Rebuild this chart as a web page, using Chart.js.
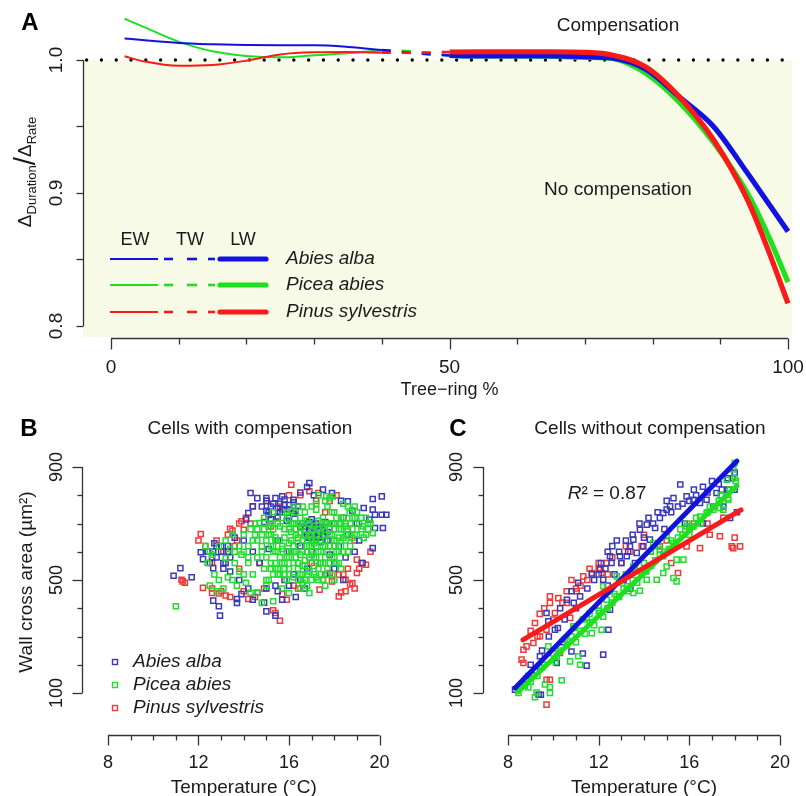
<!DOCTYPE html>
<html><head><meta charset="utf-8">
<script src="https://cdn.jsdelivr.net/npm/chart.js@4.4.1/dist/chart.umd.min.js"></script>
<style>
html,body{margin:0;padding:0;background:#fff;width:806px;height:796px;overflow:hidden;position:relative}
.box{position:absolute}
canvas{display:block}
</style></head><body>
<div class="box" style="left:0;top:0;width:806px;height:400px"><canvas id="cA" width="806" height="400"></canvas></div>
<div class="box" style="left:0;top:400px;width:403px;height:396px"><canvas id="cB" width="403" height="396"></canvas></div>
<div class="box" style="left:400px;top:400px;width:406px;height:396px"><canvas id="cC" width="406" height="396"></canvas></div>
<script>
// ---------- Panel A data ----------
const treeRingPct = [2, 5, 10, 15, 20, 25, 30, 35, 40, 45, 50, 55, 60, 65, 70, 74, 79, 84, 89, 94, 97, 100];
const ratioAbies  = [1.0162,1.0148,1.0128,1.0118,1.0112,1.011,1.011,1.0098,1.0075,1.005,1.0035,1.003,1.003,1.003,1.0025,1.0015,0.993,0.972,0.950,0.915,0.893,0.871];
const ratioPicea  = [1.031,1.0245,1.0138,1.0065,1.003,1.002,1.0035,1.005,1.0072,1.0062,1.0035,1.003,1.003,1.0028,1.002,1.0012,0.990,0.968,0.938,0.900,0.869,0.833];
const ratioPinus  = [1.0028,0.9988,0.9956,0.9962,0.9995,1.0042,1.0058,1.006,1.0055,1.0055,1.006,1.0062,1.0062,1.0062,1.0058,1.0038,0.9948,0.972,0.940,0.895,0.858,0.817];
const phaseBounds = [40, 50];           // EW < 40 <= TW < 50 <= LW
const aXMajor = [0, 50, 100];
const aXTicks = [0,10,20,30,40,50,60,70,80,90,100];
const aYTicks = [0.8, 0.85, 0.9, 0.95, 1.0];
const aYLabels = [0.8, 0.9, 1.0];
const compLevel = 1.0;

// ---------- Panel B data (cells with compensation): [temperature, wall area] ----------
const bAbies = [[10.9,515],[11.2,542],[11.7,510],[12.1,598],[12.2,574],[12.4,600],[12.65,601],[12.65,542],[12.65,427],[12.9,407],[12.95,374],[13.7,433],[13.7,419],[14.3,808],[14.2,737],[14.1,714],[14.4,761],[15.0,389],[15.4,374],[15.7,796],[16.2,784],[16.8,829],[16.9,843],[17.5,820],[17.9,808],[18.6,779],[19.7,787],[20.1,796],[19.3,755],[19.7,749],[19.8,731],[20.1,731],[20.3,731],[20.15,684],[19.8,684],[19.7,613],[19.55,714],[19.25,560],[14.8,760],[15.0,745],[15.1,730],[15.3,770],[15.5,755],[15.6,740],[15.8,765],[16.0,750],[16.2,735],[16.4,760],[15.2,715],[15.9,710],[14.9,705],[16.6,700],[16.9,680],[17.1,665],[17.3,670],[17.5,655],[17.2,690],[17.7,640],[18.0,700],[18.4,720],[18.8,745],[19.0,700],[18.6,660],[18.2,620],[17.8,590],[17.4,560],[16.8,540],[16.2,520],[15.8,500],[15.4,480],[15.0,470],[14.6,455],[14.2,470],[13.8,500],[13.4,530],[13.1,560],[12.8,580],[13.0,620],[13.3,600],[13.6,650],[14.0,640],[14.4,600],[14.7,560],[15.1,610],[15.5,640],[16.0,600],[16.5,620],[17.0,600],[17.6,520],[18.0,540],[18.4,500],[16.7,470],[16.3,440],[15.7,430],[14.9,420],[14.4,430],[13.9,450],[18.9,600],[19.1,640],[18.3,780],[17.1,800],[16.5,810],[15.0,790],[14.6,790],[16.7,690],[16.9,705],[17.0,715],[17.2,700],[17.4,690],[17.6,705],[16.8,660],[17.3,650],
  [15.0,780],[15.2,760],[15.4,790],[15.6,770],[15.8,785],[16.0,765],[16.2,775],[15.1,740],[15.5,725],[15.7,750],[16.0,720],[16.3,745],[16.5,690],[16.7,670],[16.9,650],[17.1,640],[17.3,690],[17.5,680],[17.7,670],[17.4,635],[17.0,690],[12.4,600],[12.6,580],[12.8,620],[13.0,600],[13.2,560],[13.4,580],[12.5,560],[12.7,630],[13.1,540],[13.3,620],[18.0,560],[18.5,580],[16.0,480],[16.5,500],[15.5,460]];
const bPicea = [[11.0,407],[12.3,620],[12.5,600],[12.4,560],[12.7,520],[12.9,500],[13.1,470],[13.2,578],[13.4,610],[13.6,560],[13.8,530],[13.9,590],[14.0,660],[14.2,620],[14.3,680],[14.5,700],[14.6,640],[14.7,702],[14.8,600],[14.9,540],[14.6,454],[14.8,419],[15.0,480],[15.1,660],[15.2,700],[15.3,620],[15.3,425],[15.4,560],[15.5,520],[15.6,690],[15.7,610],[15.8,650],[15.9,580],[16.0,454],[16.0,540],[16.1,700],[16.2,620],[16.3,660],[16.3,580],[16.4,500],[16.5,666],[16.5,720],[16.6,600],[16.7,550],[16.8,640],[16.9,454],[16.9,700],[17.0,760],[17.0,620],[17.1,520],[17.2,749],[17.2,580],[17.3,680],[17.4,640],[17.5,560],[17.5,720],[17.6,780],[17.65,796],[17.7,600],[17.8,660],[17.9,700],[17.94,796],[18.0,740],[18.0,620],[18.1,560],[18.2,680],[18.3,720],[18.4,650],[18.5,700],[18.6,600],[18.68,737],[18.8,680],[18.9,720],[19.0,660],[19.1,700],[19.26,690],[19.4,660],[19.5,680],[19.7,666],[16.2,760],[15.9,740],[15.5,600],[15.0,580],[14.4,520],[14.1,490],[13.7,480],[13.3,510],[16.6,490],[17.3,500],[16.8,480],[15.7,470],[14.3,455],[17.9,520],[18.3,540],[17.0,660],[16.4,630],[15.8,560],[15.2,540],[16.1,600],[16.9,580],[17.6,620],[18.2,600],[15.4,640],[14.9,680],[16.7,740],[17.7,760],[18.4,770],[17.3,800],[16.0,700],[15.1,500],[15.3,520],[15.5,540],[15.7,560],[15.9,600],[16.1,640],[16.3,680],[16.5,700],[16.7,660],[16.9,620],[17.1,580],[17.3,540],[17.5,500],[17.7,540],[17.9,580],[18.1,640],[18.3,700],[18.5,660],[18.7,620],[18.9,660],[16.0,520],[16.2,560],[16.4,540],[16.6,520],[16.8,600],[17.0,640],[17.2,620],[17.4,600],[17.6,660],[17.8,700],[15.6,580],[15.4,600],[15.2,620],[15.0,640],[14.8,660],[14.6,680],[15.3,680],[15.7,720],[16.3,740],[18.6,760],[19.0,740],[19.2,720],[19.5,700],[19.3,650],[18.0,500],[17.6,480],[16.5,470],[15.8,520],
  [15.0,500],[15.2,560],[15.3,600],[15.4,650],[15.5,700],[15.1,690],[15.6,520],[15.7,620],[15.8,680],[15.9,500],[16.0,580],[16.0,630],[16.1,670],[16.2,510],[16.2,700],[16.3,600],[16.4,560],[16.4,650],[16.5,520],[16.5,590],[16.6,640],[16.6,690],[16.7,500],[16.7,570],[16.8,620],[16.8,710],[16.9,530],[16.9,660],[17.0,500],[17.0,590],[17.1,550],[17.1,630],[17.1,690],[17.2,510],[17.2,660],[17.3,600],[17.3,710],[17.4,560],[17.4,670],[17.5,620],[17.5,690],[17.6,580],[17.6,640],[17.7,520],[17.7,700],[17.8,560],[17.8,620],[17.9,660],[17.9,740],[18.0,580],[18.0,680],[18.1,600],[18.1,720],[18.2,560],[18.2,650],[18.3,620],[18.3,680],[18.4,600],[18.4,720],[18.5,640],[18.5,690],[18.6,680],[18.7,700],[18.8,650],[15.2,660],[15.4,540],[15.6,640],[15.8,540],[16.0,680],[16.2,600],[16.4,700],[16.6,550],[16.8,520],[17.0,680],[17.2,640],[17.4,520],[17.6,700],[17.8,680],[18.0,640],[18.2,700],[14.8,620],[14.6,580],[14.4,640],[14.2,580],[14.0,600],[13.8,620],[14.5,660],[14.9,720],[15.3,740],[16.0,730],[16.6,760],[17.2,770],[17.8,790],[18.8,720],[19.2,680],[19.6,700],[19.4,720],[18.9,760],[12.6,590],[12.9,620],[13.2,640],[13.5,660],[12.5,480],[12.8,460],[13.5,500],[14.0,520],[14.2,560],[13.6,600]];
const bPinus = [[11.3,495],[11.25,501],[11.4,490],[12.1,663],[12.2,472],[12.6,454],[12.9,452],[13.0,460],[13.2,445],[13.4,681],[13.5,675],[13.9,708],[14.0,678],[14.2,433],[14.5,440],[14.9,470],[13.6,620],[12.8,640],[13.1,600],[14.4,760],[16.1,837],[16.9,814],[17.3,808],[15.3,393],[15.4,383],[15.6,356],[15.9,430],[15.7,450],[16.4,470],[17.35,466],[17.8,525],[17.9,495],[18.2,519],[18.5,501],[18.7,484],[18.8,489],[18.2,442],[18.3,456],[19.0,572],[19.2,560],[19.4,554],[19.0,525],[18.6,540],[15.0,780],[15.5,720],[16.5,800],[17.8,780],[18.1,800],[17.0,560],[16.2,480],[14.7,560],[13.8,540],[12.6,560],[17.6,740],[18.9,640],[19.6,600],[14.1,720],[15.2,690],
  [12.0,640],[12.3,620],[13.3,660],[13.8,700],[14.3,700],[12.6,470],[13.4,440],[14.0,460],[18.5,460],[18.9,470],[19.1,540],[18.4,520],[17.5,500],[16.0,800],[15.6,760],[17.2,780],[13.7,640]];

// ---------- Panel C data (cells without compensation) ----------
const cAbies = [[8.31,112],[9.35,94],[9.45,94],[9.7,383],[9.78,354],[10.07,324],[9.41,230],[10.15,206],[10.8,247],[11.47,197],[12.2,236],[11.18,442],[10.9,419],[12.06,537],[12.2,501],[12.5,584],[12.57,560],[12.94,584],[13.38,619],[13.53,643],[13.82,678],[14.12,696],[14.49,684],[13.24,584],[13.68,596],[13.97,619],[14.26,643],[14.85,737],[15.0,749],[15.15,761],[15.6,838],[15.88,796],[16.18,784],[16.47,773],[16.76,784],[17.2,808],[17.43,820],[17.72,820],[18.0,820],[17.8,720],[17.06,761],[12.5,395],[12.43,324],[11.5,470],[11.8,500],[12.0,520],[12.3,540],[12.7,520],[13.0,560],[13.3,600],[13.6,560],[14.0,650],[14.4,700],[14.7,720],[15.2,740],[15.5,760],[16.0,780],[16.3,800],[16.8,810],[17.3,840],[17.7,860],[18.0,880],[9.0,200],[9.2,180],[8.9,160],[10.3,400],[10.6,430],[10.8,460],[11.1,490],[9.8,300],[10.4,280],[11.3,240],[15.8,700],[16.6,700],[17.5,760],[18.1,740],[14.9,680],[12.4,480],[12.8,640],[13.1,500],[13.4,470],
  [11.7,520],[12.1,560],[12.4,600],[12.6,620],[12.9,600],[13.2,640],[13.5,660],[13.8,700],[14.2,720],[14.6,740],[15.0,780],[15.3,790],[15.7,770],[16.2,820],[16.6,830],[17.0,850],[17.4,800],[17.9,860],[10.2,330],[10.5,360],[11.0,400],[9.5,250],[8.8,150]];
const cPicea = [[8.46,100],[8.75,126],[9.19,85],[9.26,102],[9.63,130],[9.85,100],[9.85,121],[9.78,265],[10.15,230],[10.37,145],[10.74,212],[11.1,230],[11.18,200],[11.7,312],[12.13,324],[11.47,365],[10.88,336],[12.06,383],[12.35,430],[12.8,442],[13.24,478],[13.53,454],[13.82,462],[14.12,501],[14.56,501],[14.85,525],[15.0,548],[15.3,507],[15.44,495],[15.44,572],[15.74,572],[14.85,584],[14.41,631],[14.7,607],[15.0,655],[15.88,690],[16.18,690],[16.47,725],[16.76,737],[17.06,749],[17.35,755],[17.5,749],[17.65,855],[17.94,891],[18.0,914],[17.72,784],[13.53,548],[12.8,513],[12.2,478],[9.0,140],[9.5,190],[10.0,240],[10.5,290],[10.9,330],[11.3,360],[11.6,380],[12.0,410],[12.5,460],[12.9,490],[13.2,520],[13.6,540],[14.0,560],[14.3,600],[14.6,620],[15.2,640],[15.6,680],[16.0,660],[16.3,720],[16.9,760],[17.3,780],[17.8,820],[18.05,850],[8.9,120],
  [9.3,160],[9.6,200],[10.1,210],[10.3,250],[10.6,270],[10.8,300],[11.0,280],[11.2,320],[11.4,310],[11.6,350],[11.8,340],[12.0,390],[12.2,370],[12.4,400],[12.6,420],[12.7,450],[12.9,440],[13.1,470],[13.3,460],[13.5,500],[13.7,490],[13.9,520],[14.1,530],[14.3,550],[14.5,570],[14.7,590],[14.9,600],[15.1,610],[15.3,630],[15.5,650],[15.7,660],[15.9,700],[16.1,690],[16.5,700],[16.8,740],[17.1,760],[17.4,800],[17.7,790],[18.0,860]];
const cPinus = [[8.6,218],[8.68,253],[9.12,277],[9.19,348],[9.41,301],[9.7,324],[9.85,442],[9.85,419],[10.07,383],[10.22,436],[10.59,460],[11.03,460],[11.32,513],[11.7,525],[12.13,525],[12.35,560],[9.7,147],[9.7,59],[9.85,147],[10.29,242],[10.74,366],[15.5,525],[16.47,613],[16.9,660],[17.35,655],[17.87,619],[17.94,613],[18.24,619],[15.88,619],[14.7,619],[8.68,206],[8.82,265],[10.59,419],[10.0,360],[12.6,580],[13.0,560],[13.4,600],[13.9,620],[14.3,600],[11.0,470],[11.5,500],[12.0,540],[16.2,700],[16.8,700],[17.5,720],[18.0,650],[15.2,560],[9.4,380],[9.0,320],
  [10.8,500],[11.2,480],[11.6,540],[12.0,560],[12.4,520],[9.3,300],[9.6,400],[10.4,420],[13.2,620],[14.0,660],[15.0,640],[16.0,680]];
// regression lines (start, end)
const cFitAbies = [[8.31,118],[18.1,921]];
const cFitPicea = [[8.44,104],[18.1,833]];
const cFitPinus = [[8.66,288],[18.28,748]];
const bcXMajor = [8, 12, 16, 20];
const bcXTicks = [8,9,10,11,12,13,14,15,16,17,18,19,20];
const bcYMajor = [100, 500, 900];
const bcYTicks = [100,200,300,400,500,600,700,800,900];
const r2Text = '0.87';

const speciesNames = ['Abies alba', 'Picea abies', 'Pinus sylvestris'];
const lineColors = ['#1212e0', '#1ee01e', '#fb1a1a'];
const pointColors = ['#3a3ab8', '#22dc30', '#ee3a3a'];

const FONT = '"Liberation Sans", Arial, Helvetica, sans-serif';
const INK = '#1a1a1a';

function txt(ctx, s, x, y, size, opts = {}) {
  ctx.save();
  ctx.font = (opts.style || '') + ' ' + (opts.weight || '') + ' ' + size + 'px ' + FONT;
  ctx.fillStyle = opts.color || INK;
  ctx.textAlign = opts.align || 'center';
  ctx.textBaseline = opts.base || 'middle';
  if (opts.rot) { ctx.translate(x, y); ctx.rotate(-Math.PI / 2); ctx.fillText(s, 0, 0); }
  else ctx.fillText(s, x, y);
  ctx.restore();
}
function hline(ctx, x1, x2, y) { ctx.beginPath(); ctx.moveTo(x1, y); ctx.lineTo(x2, y); ctx.stroke(); }
function vline(ctx, x, y1, y2) { ctx.beginPath(); ctx.moveTo(x, y1); ctx.lineTo(x, y2); ctx.stroke(); }

// ---------- Panel A ----------
const phaseStyle = x => x < phaseBounds[0] ? 'EW' : (x < phaseBounds[1] ? 'TW' : 'LW');
function speciesDataset(vals, i) {
  return {
    data: treeRingPct.map((x, k) => ({x, y: vals[k]})),
    borderColor: lineColors[i], pointRadius: 0, cubicInterpolationMode: 'monotone', fill: false,
    borderCapStyle: 'butt',
    segment: {
      borderWidth: c => { const p = phaseStyle(c.p0.parsed.x); return p === 'EW' ? 2 : (p === 'TW' ? 2.6 : 5.2); },
      borderDash: c => phaseStyle(c.p0.parsed.x) === 'TW' ? [9, 11] : []
    }
  };
}
const panelAPlugin = {
  id: 'panelA',
  beforeDatasetsDraw(chart) {
    const {ctx, chartArea: a, scales: {y}} = chart;
    const y1 = y.getPixelForValue(compLevel);
    ctx.save(); ctx.fillStyle = '#f7fae6'; ctx.fillRect(a.left, y1, a.right - a.left, a.bottom - y1); ctx.restore();
  },
  afterDraw(chart) {
    const {ctx, scales: {x, y}} = chart;
    ctx.save();
    ctx.strokeStyle = '#333'; ctx.lineWidth = 1.3;
    const ay = 338.5;
    hline(ctx, x.getPixelForValue(aXTicks[0]), x.getPixelForValue(aXTicks[aXTicks.length - 1]), ay);
    aXTicks.forEach(v => { const px = Math.round(x.getPixelForValue(v)) + 0.5; vline(ctx, px, ay, ay + (aXMajor.includes(v) ? 11 : 6)); });
    aXMajor.forEach(v => txt(ctx, String(v), x.getPixelForValue(v), 368, 19));
    txt(ctx, 'Tree\u2212ring %', x.getPixelForValue(50), 390, 18);
    const ax = 83.5;
    vline(ctx, ax, y.getPixelForValue(aYTicks[0]), y.getPixelForValue(aYTicks[aYTicks.length - 1]));
    aYTicks.forEach(v => { const py = Math.round(y.getPixelForValue(v)) + 0.5; hline(ctx, ax - 7, ax, py); });
    aYLabels.forEach(v => txt(ctx, v.toFixed(1), 57, y.getPixelForValue(v), 19, {rot: true}));
    ctx.save();
    ctx.translate(31, 172); ctx.rotate(-Math.PI / 2);
    ctx.fillStyle = INK; ctx.textAlign = 'left'; ctx.textBaseline = 'alphabetic';
    const parts = [['\u0394', 19, 0], ['Duration', 13, 5], ['/', 30, 4], ['\u0394', 19, 0], ['Rate', 13, 5]];
    let tot = 0;
    parts.forEach(p => { ctx.font = p[1] + 'px ' + FONT; tot += ctx.measureText(p[0]).width; });
    let cx = -tot / 2;
    parts.forEach(p => { ctx.font = p[1] + 'px ' + FONT; ctx.fillText(p[0], cx, p[2]); cx += ctx.measureText(p[0]).width; });
    ctx.restore();
    txt(ctx, 'A', 30, 23, 24, {weight: 'bold', color: '#000'});
    txt(ctx, 'Compensation', 618, 26, 19);
    txt(ctx, 'No compensation', 618, 190, 19);
    txt(ctx, 'EW', 135, 240, 18); txt(ctx, 'TW', 190, 240, 18); txt(ctx, 'LW', 243, 240, 18);
    const ly = [259, 285, 312];
    ly.forEach((yy, i) => {
      ctx.strokeStyle = lineColors[i];
      ctx.lineCap = 'butt';
      ctx.lineWidth = 2; hline(ctx, 110, 158, yy);
      ctx.lineWidth = 2.6; hline(ctx, 164, 173, yy); hline(ctx, 187, 197, yy); hline(ctx, 208, 215, yy);
      ctx.lineWidth = 5.2; ctx.lineCap = 'round'; hline(ctx, 220, 266, yy);
      txt(ctx, speciesNames[i], 286, yy, 19, {style: 'italic', align: 'left'});
    });
    ctx.restore();
  }
};
new Chart(document.getElementById('cA'), {
  type: 'line',
  data: {
    datasets: [
      speciesDataset(ratioPinus, 2),
      speciesDataset(ratioAbies, 0),
      speciesDataset(ratioPicea, 1),
      { data: [{x: -3.6, y: compLevel}, {x: 99.6, y: compLevel}], borderColor: '#000', borderWidth: 3.4,
        borderDash: [0, 14.8], borderCapStyle: 'round', pointRadius: 0, tension: 0 }
    ]
  },
  options: {
    responsive: false, animation: false, devicePixelRatio: 1,
    layout: {padding: {left: 83, right: 14, top: 5, bottom: 63}},
    plugins: {legend: {display: false}, tooltip: {enabled: false}},
    scales: {
      x: {type: 'linear', min: -4.136, max: 100.59, display: false},
      y: {type: 'linear', min: 0.79173, max: 1.04135, display: false}
    }
  },
  plugins: [panelAPlugin]
});

// ---------- Panels B and C ----------
function axesPlugin(id, axisX, title, letter, letterX, opts) {
  return {
    id,
    afterDraw(chart) {
      const {ctx, scales: {x, y}} = chart;
      ctx.save();
      ctx.strokeStyle = '#333'; ctx.lineWidth = 1.3;
      const ay = 335.5;
      hline(ctx, x.getPixelForValue(bcXTicks[0]), x.getPixelForValue(bcXTicks[bcXTicks.length - 1]), ay);
      bcXTicks.forEach(v => { const px = Math.round(x.getPixelForValue(v)) + 0.5; vline(ctx, px, ay, ay + (bcXMajor.includes(v) ? 10 : 5)); });
      bcXMajor.forEach(v => txt(ctx, String(v), x.getPixelForValue(v), 363, 18));
      txt(ctx, 'Temperature (\u00B0C)', x.getPixelForValue(14), 388, 19);
      vline(ctx, axisX, y.getPixelForValue(bcYTicks[0]), y.getPixelForValue(bcYTicks[bcYTicks.length - 1]));
      bcYTicks.forEach(v => { const py = Math.round(y.getPixelForValue(v)) + 0.5; hline(ctx, axisX - (bcYMajor.includes(v) ? 10 : 5), axisX, py); });
      bcYMajor.forEach(v => txt(ctx, String(v), 57, y.getPixelForValue(v), 18, {rot: true}));
      txt(ctx, title, 250, 29, 19);
      txt(ctx, letter, letterX, 29, 24, {weight: 'bold', color: '#000'});
      if (opts.yTitle) txt(ctx, 'Wall cross area (\u00B5m\u00B2)', 27, 182, 19, {rot: true});
      if (opts.legend) {
        [262, 285, 308].forEach((yy, i) => {
          ctx.strokeStyle = pointColors[i]; ctx.lineWidth = 1.4;
          ctx.strokeRect(112.5, yy - 2.5, 5, 5);
          txt(ctx, speciesNames[i], 133, yy, 19, {style: 'italic', align: 'left'});
        });
      }
      if (opts.r2) {
        ctx.font = 'italic 19px ' + FONT;
        const wR = ctx.measureText('R').width;
        ctx.font = '19px ' + FONT;
        const rest = '\u00B2 = ' + r2Text;
        const wRest = ctx.measureText(rest).width;
        const sx = 207 - (wR + wRest) / 2;
        txt(ctx, 'R', sx, 94, 19, {style: 'italic', align: 'left'});
        txt(ctx, rest, sx + wR, 94, 19, {align: 'left'});
      }
      ctx.restore();
    }
  };
}
const pts = arr => arr.map(p => ({x: p[0], y: p[1]}));
function scatterSet(arr, i) {
  return {type: 'scatter', data: pts(arr), pointStyle: 'rect', pointRadius: 3.6, pointBorderWidth: 1.5,
    pointBorderColor: pointColors[i], pointBackgroundColor: 'rgba(0,0,0,0)', showLine: false};
}
function fitSet(arr, i) {
  return {type: 'line', data: pts(arr), borderColor: lineColors[i], borderWidth: 5, pointRadius: 0,
    showLine: true, borderCapStyle: 'round', tension: 0};
}
function bcOptions(width) {
  return {
    responsive: false, animation: false, devicePixelRatio: 1,
    layout: {padding: {left: 86, right: width - 398, top: 40, bottom: 396 - 330}},
    plugins: {legend: {display: false}, tooltip: {enabled: false}},
    scales: {
      x: {type: 'linear', min: 7.0294, max: 20.794, display: false},
      y: {type: 'linear', min: -30.97, max: 995.6, display: false}
    }
  };
}
new Chart(document.getElementById('cB'), {
  type: 'scatter',
  data: {datasets: [scatterSet(bPicea, 1), scatterSet(bAbies, 0), scatterSet(bPinus, 2)]},
  options: bcOptions(403),
  plugins: [axesPlugin('axB', 82.5, 'Cells with compensation', 'B', 29, {yTitle: true, legend: true})]
});
new Chart(document.getElementById('cC'), {
  type: 'scatter',
  data: {datasets: [fitSet(cFitPinus, 2), fitSet(cFitAbies, 0), fitSet(cFitPicea, 1),
                    scatterSet(cPicea, 1), scatterSet(cAbies, 0), scatterSet(cPinus, 2)]},
  options: bcOptions(406),
  plugins: [axesPlugin('axC', 83.5, 'Cells without compensation', 'C', 58, {r2: true})]
});
</script>
</body></html>
